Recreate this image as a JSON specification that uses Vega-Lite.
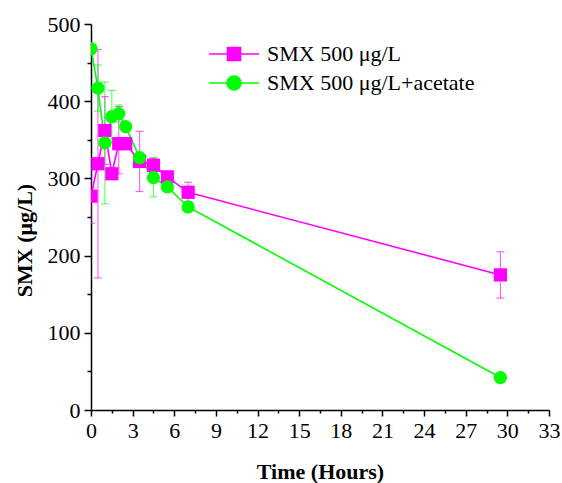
{
  "$schema": "https://vega.github.io/schema/vega-lite/v6.json",
  "autosize": "none",
  "width": 458,
  "height": 386,
  "padding": {"left": 91, "top": 24, "right": 13, "bottom": 73},
  "background": "white",
  "config": {
    "view": {"stroke": null},
    "font": "Liberation Serif",
    "axis": {
      "labelFont": "Liberation Serif",
      "labelFontSize": 22,
      "labelColor": "black",
      "titleFont": "Liberation Serif",
      "titleFontSize": 22,
      "titleFontWeight": "bold",
      "titleColor": "black",
      "domainColor": "black",
      "domainWidth": 1.5,
      "tickColor": "black",
      "tickWidth": 1.5,
      "grid": false,
      "labelOverlap": false,
      "labelFlush": false
    }
  },
  "data": {
    "values": [
      {"series": "SMX 500 μg/L", "time": 0, "smx": 277, "lo": 242, "hi": 312},
      {"series": "SMX 500 μg/L", "time": 0.5, "smx": 319, "lo": 171, "hi": 467},
      {"series": "SMX 500 μg/L", "time": 1, "smx": 362, "lo": 318, "hi": 406},
      {"series": "SMX 500 μg/L", "time": 1.5, "smx": 306},
      {"series": "SMX 500 μg/L", "time": 2, "smx": 345, "lo": 306, "hi": 393},
      {"series": "SMX 500 μg/L", "time": 2.5, "smx": 345},
      {"series": "SMX 500 μg/L", "time": 3.5, "smx": 322, "lo": 283, "hi": 361},
      {"series": "SMX 500 μg/L", "time": 4.5, "smx": 317, "lo": 308, "hi": 326},
      {"series": "SMX 500 μg/L", "time": 5.5, "smx": 302},
      {"series": "SMX 500 μg/L", "time": 7, "smx": 282, "lo": 270, "hi": 295},
      {"series": "SMX 500 μg/L", "time": 29.5, "smx": 175, "lo": 145, "hi": 205},
      {"series": "SMX 500 μg/L+acetate", "time": 0, "smx": 468},
      {"series": "SMX 500 μg/L+acetate", "time": 0.5, "smx": 417, "lo": 387, "hi": 447},
      {"series": "SMX 500 μg/L+acetate", "time": 1, "smx": 346, "lo": 267, "hi": 425},
      {"series": "SMX 500 μg/L+acetate", "time": 1.5, "smx": 380, "lo": 346, "hi": 414},
      {"series": "SMX 500 μg/L+acetate", "time": 2, "smx": 384, "lo": 373, "hi": 395},
      {"series": "SMX 500 μg/L+acetate", "time": 2.5, "smx": 367},
      {"series": "SMX 500 μg/L+acetate", "time": 3.5, "smx": 327},
      {"series": "SMX 500 μg/L+acetate", "time": 4.5, "smx": 301, "lo": 276, "hi": 327},
      {"series": "SMX 500 μg/L+acetate", "time": 5.5, "smx": 289},
      {"series": "SMX 500 μg/L+acetate", "time": 7, "smx": 263},
      {"series": "SMX 500 μg/L+acetate", "time": 29.5, "smx": 42}
    ]
  },
  "encoding": {
    "x": {
      "field": "time", "type": "quantitative",
      "scale": {"domain": [0, 33], "nice": false, "zero": false},
      "axis": {
        "title": "Time (Hours)",
        "values": [0, 1.5, 3, 4.5, 6, 7.5, 9, 10.5, 12, 13.5, 15, 16.5, 18, 19.5, 21, 22.5, 24, 25.5, 27, 28.5, 30, 31.5, 33],
        "labelExpr": "datum.value % 3 === 0 ? datum.label : ''",
        "tickSize": {"condition": {"test": "datum.value % 3 === 0", "value": 6}, "value": 3},
        "labelPadding": 4,
        "titleY": 68,
        "titleBaseline": "alphabetic"
      }
    },
    "y": {
      "field": "smx", "type": "quantitative",
      "scale": {"domain": [0, 500], "nice": false},
      "axis": {
        "title": "SMX (μg/L)",
        "values": [0, 50, 100, 150, 200, 250, 300, 350, 400, 450, 500],
        "labelExpr": "datum.value % 100 === 0 ? datum.label : ''",
        "tickSize": {"condition": {"test": "datum.value % 100 === 0", "value": 7}, "value": 4},
        "labelPadding": 4,
        "titleX": -67,
        "titleY": 216,
        "titleBaseline": "middle"
      }
    },
    "color": {
      "field": "series", "type": "nominal",
      "scale": {"domain": ["SMX 500 μg/L", "SMX 500 μg/L+acetate"], "range": ["#ff00ff", "#00ff00"]},
      "legend": {
        "title": null,
        "orient": "none",
        "legendX": 132,
        "legendY": 19,
        "padding": 0,
        "symbolSize": 400,
        "symbolStrokeWidth": 1.6,
        "labelFont": "Liberation Serif",
        "labelFontSize": 22,
        "labelColor": "black",
        "labelOffset": 22,
        "labelLimit": 400,
        "rowPadding": 7,
        "encode": {
          "symbols": {
            "update": {
              "shape": {"signal": "indexof(datum.value, 'acetate') < 0 ? 'M-2.5,0H2.5M-0.65,-0.65H0.65V0.65H-0.65Z' : 'M-2.5,0H2.5M0.7,0A0.7,0.7,0,1,1,-0.7,0A0.7,0.7,0,1,1,0.7,0Z'"},
              "stroke": {"signal": "scale('color', datum.value)"},
              "fill": {"signal": "scale('color', datum.value)"},
              "strokeWidth": {"value": 1.6},
              "opacity": {"value": 1}
            }
          }
        }
      }
    }
  },
  "layer": [
    {
      "mark": {"type": "line", "strokeWidth": 1.6, "clip": true}
    },
    {
      "transform": [{"filter": "isValid(datum.lo)"}],
      "mark": {"type": "rule", "strokeWidth": 1.2, "opacity": 0.6, "clip": true},
      "encoding": {
        "y": {"field": "lo", "type": "quantitative"},
        "y2": {"field": "hi"}
      }
    },
    {
      "transform": [{"filter": "isValid(datum.lo)"}],
      "mark": {"type": "tick", "orient": "horizontal", "size": 8, "thickness": 1.2, "opacity": 0.6, "clip": true},
      "encoding": {
        "y": {"field": "lo", "type": "quantitative"}
      }
    },
    {
      "transform": [{"filter": "isValid(datum.hi)"}],
      "mark": {"type": "tick", "orient": "horizontal", "size": 8, "thickness": 1.2, "opacity": 0.6, "clip": true},
      "encoding": {
        "y": {"field": "hi", "type": "quantitative"}
      }
    },
    {
      "transform": [{"filter": "indexof(datum.series, 'acetate') < 0"}],
      "mark": {"type": "point", "shape": "square", "filled": true, "opacity": 1, "size": 175, "clip": true}
    },
    {
      "transform": [{"filter": "indexof(datum.series, 'acetate') >= 0"}],
      "mark": {"type": "point", "shape": "circle", "filled": true, "opacity": 1, "size": 175, "clip": true}
    }
  ]
}
